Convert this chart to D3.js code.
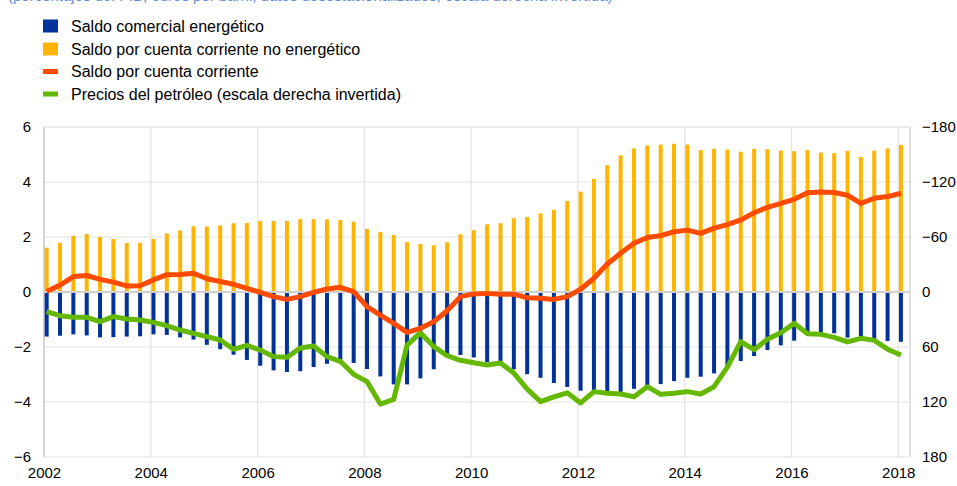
<!DOCTYPE html>
<html>
<head>
<meta charset="utf-8">
<script src="https://d3js.org/d3.v7.min.js"></script>
<style>
    body { margin: 0; background: #fff; }
    svg { display: block; font-family: Arial, "Liberation Sans", sans-serif; }
</style>
</head>
<body>
<svg id="chart" width="957" height="486"></svg>
<script>
// quarterly data, 2002 Q1 - 2018 Q1
var startYear = 2002;

// Saldo comercial energético (% del PIB)
var energyBalance = [
    -1.62, -1.59, -1.54, -1.58, -1.65, -1.64, -1.62, -1.61, -1.54, -1.56, -1.65, -1.73, -1.92,
    -2.08, -2.28, -2.47, -2.68, -2.85, -2.91, -2.88, -2.73, -2.61, -2.47, -2.58, -2.80, -3.07,
    -3.36, -3.36, -3.14, -2.81, -2.27, -2.29, -2.38, -2.55, -2.53, -2.81, -2.99, -3.12, -3.31,
    -3.45, -3.59, -3.59, -3.64, -3.64, -3.52, -3.43, -3.35, -3.24, -3.12, -3.08, -2.96, -2.75,
    -2.51, -2.33, -2.11, -1.94, -1.77, -1.56, -1.50, -1.50, -1.66, -1.62, -1.71, -1.78, -1.81
];

// Saldo por cuenta corriente no energético (% del PIB)
var nonEnergyBalance = [
    1.61, 1.79, 2.04, 2.11, 2.00, 1.93, 1.78, 1.79, 1.93, 2.13, 2.24, 2.39, 2.38,
    2.42, 2.50, 2.51, 2.58, 2.58, 2.58, 2.65, 2.65, 2.64, 2.62, 2.56, 2.29, 2.18,
    2.07, 1.82, 1.75, 1.70, 1.81, 2.10, 2.25, 2.46, 2.50, 2.68, 2.73, 2.86, 2.99,
    3.31, 3.65, 4.11, 4.61, 4.97, 5.22, 5.33, 5.36, 5.39, 5.36, 5.16, 5.21, 5.18,
    5.10, 5.20, 5.19, 5.14, 5.12, 5.16, 5.07, 5.05, 5.13, 4.91, 5.14, 5.22, 5.35
];

// Saldo por cuenta corriente (% del PIB)
var currentAccount = [
    0.02, 0.25, 0.56, 0.60, 0.46, 0.36, 0.22, 0.23, 0.44, 0.63, 0.64, 0.68, 0.48,
    0.38, 0.28, 0.13, -0.01, -0.17, -0.27, -0.17, -0.01, 0.11, 0.17, 0.01, -0.53, -0.84,
    -1.14, -1.47, -1.32, -1.08, -0.68, -0.17, -0.07, -0.05, -0.08, -0.08, -0.21, -0.23, -0.27,
    -0.17, 0.10, 0.50, 1.02, 1.41, 1.77, 1.98, 2.05, 2.19, 2.25, 2.13, 2.32, 2.45,
    2.62, 2.88, 3.08, 3.22, 3.37, 3.61, 3.64, 3.62, 3.52, 3.22, 3.41, 3.47, 3.59
];

// Precios del petróleo (escala derecha invertida)
var oilPrice = [
    21.5, 25.8, 27.6, 27.6, 32.4, 26.9, 29.5, 30.5, 33.1, 36.7, 41.5, 45.1, 48.7,
    52.4, 62.5, 58.2, 63.3, 70.5, 71.3, 61.1, 58.9, 70.5, 75.6, 89.8, 97.8, 122.2,
    117.1, 58.0, 44.4, 59.6, 69.5, 74.5, 77.1, 79.6, 77.5, 88.4, 106.0, 119.6, 114.5,
    110.0, 121.0, 108.7, 110.5, 111.3, 114.2, 103.3, 111.6, 110.5, 108.7, 111.3, 103.3, 82.0,
    54.2, 62.9, 51.6, 44.4, 34.2, 45.5, 46.2, 49.5, 54.5, 50.5, 52.8, 62.4, 68.7
];

var leftTicks = [-6, -4, -2, 0, 2, 4, 6];
var rightTicks = [-180, -120, -60, 0, 60, 120, 180];
var yearTicks = [2002, 2004, 2006, 2008, 2010, 2012, 2014, 2016, 2018];

var legendItems = [
    {label: 'Saldo comercial energético', color: '#003299', type: 'box'},
    {label: 'Saldo por cuenta corriente no energético', color: '#ffb400', type: 'box'},
    {label: 'Saldo por cuenta corriente', color: '#ff4b00', type: 'line'},
    {label: 'Precios del petróleo (escala derecha invertida)', color: '#65b800', type: 'line'}
];

var plot = {left: 44, right: 910, top: 127, bottom: 457};
var barWidth = 4;
var barOffset = 0.05;   // bars sit a little right of the quarter start

var svg = d3.select('svg#chart');

var x = d3.scaleLinear().domain([2002, 2018.22]).range([plot.left, plot.right]);
var y = d3.scaleLinear().domain([-6, 6]).range([plot.bottom, plot.top]);
var yRight = d3.scaleLinear().domain([-180, 180]).range([plot.top, plot.bottom]);

function qx(d, i) {
    return x(startYear + i / 4 + barOffset);
}

// subtitle, mostly above the top edge as in the source
svg.append('text')
    .attr('x', 8)
    .attr('y', 1)
    .attr('fill', '#5b8fd9')
    .style('font-size', '15px')
    .text('(porcentajes del PIB; euros por barril; datos desestacionalizados; escala derecha invertida)');

/**
 * Grid lines and frame.
 */
var grid = svg.append('g');

grid.selectAll('.hgrid')
    .data(leftTicks.filter(function(d) { return d !== 0; }))
    .enter().append('line')
        .attr('x1', plot.left).attr('x2', plot.right)
        .attr('y1', function(d) { return y(d); })
        .attr('y2', function(d) { return y(d); })
        .attr('stroke', function(d) { return d === 6 ? '#ececec' : '#e3e3e3'; })
        .attr('stroke-width', function(d) { return d === 6 ? 2 : 1.2; });

grid.selectAll('.vgrid')
    .data(yearTicks.slice(1))
    .enter().append('line')
        .attr('x1', function(d) { return x(d); })
        .attr('x2', function(d) { return x(d); })
        .attr('y1', plot.top).attr('y2', plot.bottom)
        .attr('stroke', '#e3e3e3')
        .attr('stroke-width', 1.2);

// left and right border
grid.append('line')
    .attr('x1', plot.left).attr('x2', plot.left)
    .attr('y1', plot.top).attr('y2', plot.bottom)
    .attr('stroke', '#d4d4d4').attr('stroke-width', 2);
grid.append('line')
    .attr('x1', plot.right).attr('x2', plot.right)
    .attr('y1', plot.top).attr('y2', plot.bottom)
    .attr('stroke', '#e0e0e0').attr('stroke-width', 2);

/**
 * Bars.
 */
svg.append('g').selectAll('rect')
    .data(nonEnergyBalance)
    .enter().append('rect')
        .attr('x', function(d, i) { return qx(d, i) - barWidth / 2; })
        .attr('y', function(d) { return y(d); })
        .attr('width', barWidth)
        .attr('height', function(d) { return y(0) - y(d); })
        .attr('fill', '#ffb400');

svg.append('g').selectAll('rect')
    .data(energyBalance)
    .enter().append('rect')
        .attr('x', function(d, i) { return qx(d, i) - barWidth / 2; })
        .attr('y', y(0))
        .attr('width', barWidth)
        .attr('height', function(d) { return y(d) - y(0); })
        .attr('fill', '#003299');

// zero line
svg.append('line')
    .attr('x1', plot.left).attr('x2', plot.right)
    .attr('y1', y(0)).attr('y2', y(0))
    .attr('stroke', '#d0d0d0').attr('stroke-width', 2);

/**
 * Lines.
 */
var caLine = d3.line()
    .x(qx)
    .y(function(d) { return y(d); });

var oilLine = d3.line()
    .x(qx)
    .y(function(d) { return yRight(d); });

svg.append('path')
    .datum(oilPrice)
    .attr('d', oilLine)
    .attr('fill', 'none')
    .attr('stroke', '#65b800')
    .attr('stroke-width', 5)
    .attr('stroke-linejoin', 'round');

svg.append('path')
    .datum(currentAccount)
    .attr('d', caLine)
    .attr('fill', 'none')
    .attr('stroke', '#ff4b00')
    .attr('stroke-width', 5)
    .attr('stroke-linejoin', 'round');

/**
 * Axes.
 */
var leftAxis = svg.append('g')
    .attr('transform', 'translate(31,0)')
    .call(d3.axisLeft(y).tickValues(leftTicks).tickSize(0).tickPadding(0));

var rightAxis = svg.append('g')
    .attr('transform', 'translate(922,0)')
    .call(d3.axisRight(yRight).tickValues(rightTicks).tickSize(0).tickPadding(0));

var bottomAxis = svg.append('g')
    .attr('transform', 'translate(0,' + (plot.bottom + 10) + ')')
    .call(d3.axisBottom(x).tickValues(yearTicks).tickFormat(d3.format('d')).tickSize(0).tickPadding(0));

[leftAxis, rightAxis, bottomAxis].forEach(function(a) {
    a.select('.domain').remove();
    a.selectAll('text')
        .attr('fill', '#000')
        .style('font-family', 'Arial, "Liberation Sans", sans-serif')
        .style('font-size', '15px');
});

/**
 * Legend.
 */
var legend = svg.append('g');
var rowY = [26, 49, 71.5, 94];

var item = legend.selectAll('g')
    .data(legendItems)
    .enter().append('g')
        .attr('transform', function(d, i) { return 'translate(43,' + rowY[i] + ')'; });

item.append('rect')
    .attr('x', 0)
    .attr('y', function(d) { return d.type === 'box' ? -6.5 : -2.5; })
    .attr('width', 15)
    .attr('height', function(d) { return d.type === 'box' ? 13 : 5; })
    .attr('fill', function(d) { return d.color; });

item.append('text')
    .attr('x', 28)
    .attr('y', 5.5)
    .attr('fill', '#000')
    .style('font-size', '16px')
    .text(function(d) { return d.label; });
</script>
</body>
</html>
